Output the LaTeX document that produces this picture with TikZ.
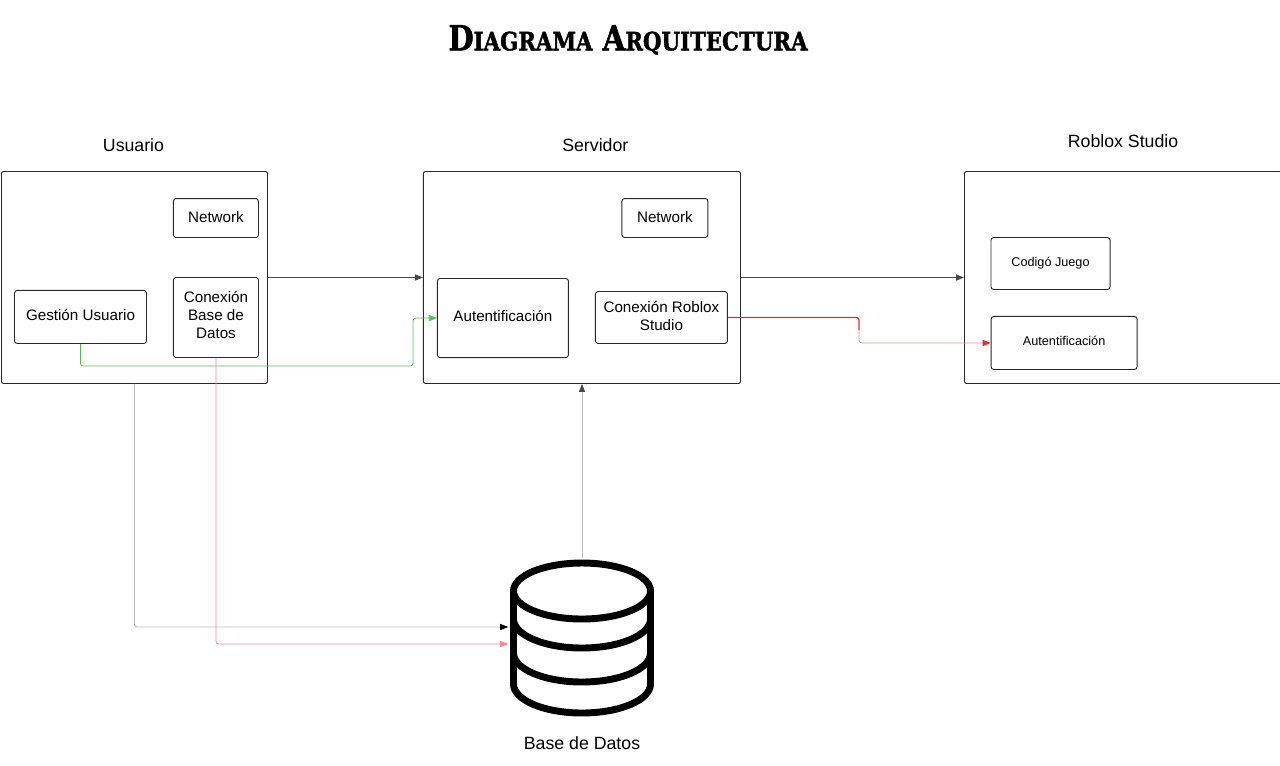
\documentclass[tikz,border=0pt]{standalone}
\usepackage{fontspec}
\setmainfont{Liberation Sans}
\newfontfamily\titlefont[FakeStretch=0.84, FakeBold=1.5]{DejaVu Serif}
\usetikzlibrary{arrows.meta}
\definecolor{edge}{RGB}{40, 40, 45}
\definecolor{darkline}{RGB}{70, 72, 80}
\definecolor{lightline}{RGB}{190, 190, 190}
\definecolor{greenline}{RGB}{92, 184, 92}
\definecolor{pinkline}{RGB}{240, 140, 145}
\definecolor{redline}{RGB}{225, 45, 50}
\tikzstyle{container}=[rectangle, draw=edge, line width=0.7pt, rounded corners=1.5pt, minimum height=159pt, inner sep=0pt]
\tikzstyle{process}=[rectangle, draw=edge, line width=0.7pt, rounded corners=2pt, align=center, inner sep=0pt, text depth=2.5pt, font=\fontsize{11.4}{13.5}\selectfont]
\tikzstyle{heading}=[inner sep=0pt, font=\fontsize{13.3}{16}\selectfont]
\tikzstyle{link}=[line width=0.6pt, rounded corners=2pt]
\tikzstyle{tip}=[-{Triangle[length=6pt, width=4.6pt]}]
\newcommand{\smallcap}[1]{{\fontsize{19}{24}\selectfont #1}}
\begin{document}
\begin{tikzpicture}[x=0.75pt, y=-0.75pt]
      %
      \path[use as bounding box] (0,0) rectangle (1280,765);
      %
      % Title
      %
      \node[inner sep=0pt, font=\titlefont\bfseries\fontsize{26}{32}\selectfont] (title) at (628,40) {D\smallcap{IAGRAMA} A\smallcap{RQUITECTURA}};
      %
      % Usuario*
      %
      \node[container, minimum width=199.5pt] (usuario) at (134.5,277.5) {};
      \node[heading, above of=usuario, node distance=99pt, xshift=-0.75pt] (usuariolabel) {Usuario};
      \node[process, right of=usuario, node distance=61.1pt, yshift=44.6pt, minimum width=63.8pt, minimum height=29.2pt, text depth=1.5pt] (networkuser) {Network};
      \node[process, right of=usuario, node distance=61.1pt, yshift=-30pt, minimum width=63.8pt, minimum height=60pt, text depth=4pt] (conexionbd) {Conexión\\Base de\\Datos};
      \node[process, left of=usuario, node distance=40.5pt, yshift=-29.6pt, minimum width=99pt, minimum height=39.8pt] (gestion) {Gestión Usuario};
      %
      % Servidor*
      %
      \node[container, right of=usuario, node distance=335.6pt, minimum width=237.8pt] (servidor) {};
      \node[heading, above of=servidor, node distance=99pt, xshift=10pt] (servidorlabel) {Servidor};
      \node[process, right of=servidor, node distance=62.2pt, yshift=44.6pt, minimum width=64.5pt, minimum height=29.2pt, text depth=1.5pt] (networkserver) {Network};
      \node[process, left of=servidor, node distance=59.3pt, yshift=-30.4pt, minimum width=98.3pt, minimum height=59.3pt] (autenserver) {Autentificación};
      \node[process, right of=servidor, node distance=59.6pt, yshift=-30pt, minimum width=99pt, minimum height=39pt] (conexionroblox) {Conexión Roblox\\Studio};
      %
      % Roblox Studio*
      %
      \node[container, right of=servidor, node distance=405.8pt, minimum width=237.8pt] (roblox) {};
      \node[heading, above of=roblox, node distance=102pt] (robloxlabel) {Roblox Studio};
      \node[process, left of=roblox, node distance=54.4pt, yshift=10.5pt, minimum width=89.3pt, minimum height=39pt, font=\fontsize{9.5}{12}\selectfont] (codigo) {Codigó Juego};
      \node[process, left of=roblox, node distance=44.2pt, yshift=-49.1pt, minimum width=109.5pt, minimum height=39.8pt, font=\fontsize{9.5}{12}\selectfont] (autenroblox) {Autentificación};
      %
      % Base de Datos*
      %
      \node[minimum width=110.3pt, minimum height=120pt, inner sep=0pt] (basedatos) at (582,638) {};
      \node[heading, below of=basedatos, node distance=78.7pt] (basedatoslabel) {Base de Datos};
      \begin{scope}[line width=5.2pt, line cap=round]
        \draw (582,591) ellipse [x radius=68.5, y radius=28];
        \draw (513.5,591) -- (513.5,684) arc[start angle=180, end angle=360, x radius=68.5, y radius=-29] -- (650.5,591);
        \draw (513.5,619) arc[start angle=180, end angle=360, x radius=68.5, y radius=-29];
        \draw (513.5,653) arc[start angle=180, end angle=360, x radius=68.5, y radius=-29];
      \end{scope}
      \coordinate (dbupper) at (basedatos.west |- 0,627);
      \coordinate (dblower) at (basedatos.west |- 0,644);
      %
      % Usuario --> Servidor --> Roblox Studio
      %
      \path [draw=darkline, link, tip] (usuario.east) -- (servidor.west);
      \path [draw=darkline, link, tip] (servidor.east) -- (servidor.east -| roblox.west);
      %
      % Gestion Usuario --> Autentificacion
      %
      \coordinate (greenbend) at (413,366);
      \path [draw=greenline, link, tip] (gestion.south) |- (greenbend) |- (autenserver.west);
      %
      % Conexion Roblox Studio --> Autentificacion
      %
      \coordinate (redbend) at (859,330);
      \path [draw=redline, link, line width=1pt] (conexionroblox.east) -| (redbend);
      \path [draw=pinkline, link, -{Triangle[length=6pt, width=4.6pt, color=redline]}] (redbend) |- (autenroblox.west);
      %
      % Usuario, Conexion Base de Datos --> Base de Datos --> Servidor
      %
      \path [draw=lightline, link, -{Triangle[length=6pt, width=4.6pt, color=black]}] (usuario.south) |- (dbupper);
      \path [draw=pinkline, link, tip] (conexionbd.south) |- (dblower);
      \path [draw=lightline, link, -{Triangle[length=6pt, width=4.6pt, color=darkline]}] (basedatos.north) -- (basedatos.north |- servidor.south);
      %
    \end{tikzpicture}
\end{document}
